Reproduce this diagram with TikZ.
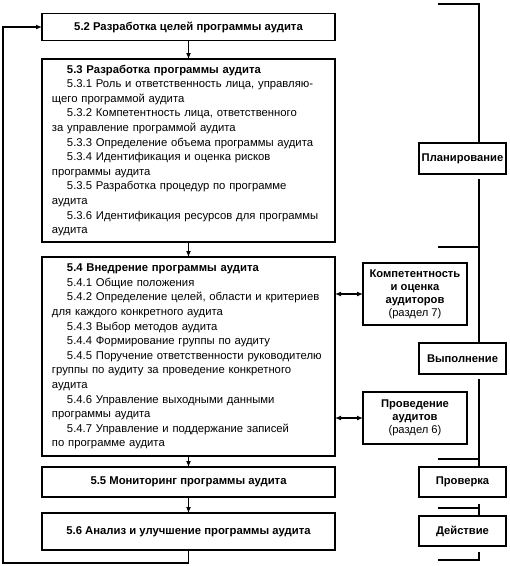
\documentclass[tikz,border=0pt]{standalone}
\usepackage{fontspec}
\setmainfont{Liberation Sans}
\usetikzlibrary{arrows.meta,calc}
\newcommand{\ind}[1]{\mbox{\hspace*{15pt}#1}}
\newcommand{\fl}[1]{\mbox{#1}}
\begin{document}
\begin{tikzpicture}[x=1pt,y=-1pt,
  box/.style={draw,line width=1.4pt,inner sep=0pt,outer sep=0pt},
  lbox/.style={box,minimum width=293pt},
  rbox/.style={box,minimum width=87pt,minimum height=30pt,font=\bfseries\fontsize{11.2}{12}\selectfont},
  sbox/.style={box,minimum width=104pt,align=center,font=\fontsize{11.2}{13}\selectfont},
  txtbox/.style={lbox,text width=273pt,align=left,font=\fontsize{11.3}{14.6}\selectfont},
  ln/.style={line width=1.3pt},
  arr/.style={ln,-{Latex[length=6pt,width=5pt]}},
  darr/.style={ln,{Latex[length=6pt,width=5pt]}-{Latex[length=6pt,width=5pt]}}
]
\useasboundingbox (0,0) rectangle (510,566);

% left column
\node[lbox,minimum height=27pt,font=\bfseries\fontsize{11.3}{12}\selectfont] (b52) at (188.5,27) {5.2 Разработка целей программы аудита};

\node[txtbox,minimum height=183pt] (b53) at (188.5,150.5) {%
\ind{\textbf{5.3 Разработка программы аудита}}\\
\ind{5.3.1 Роль и ответственность лица, управляю-}\\
\fl{щего программой аудита}\\
\ind{5.3.2 Компетентность лица, ответственного}\\
\fl{за управление программой аудита}\\
\ind{5.3.3 Определение объема программы аудита}\\
\ind{5.3.4 Идентификация и оценка рисков}\\
\fl{программы аудита}\\
\ind{5.3.5 Разработка процедур по программе}\\
\fl{аудита}\\
\ind{5.3.6 Идентификация ресурсов для программы}\\
\fl{аудита}};

\node[txtbox,minimum height=199pt] (b54) at (188.5,356.5) {%
\ind{\textbf{5.4 Внедрение программы аудита}}\\
\ind{5.4.1 Общие положения}\\
\ind{5.4.2 Определение целей, области и критериев}\\
\fl{для каждого конкретного аудита}\\
\ind{5.4.3 Выбор методов аудита}\\
\ind{5.4.4 Формирование группы по аудиту}\\
\ind{5.4.5 Поручение ответственности руководителю}\\
\fl{группы по аудиту за проведение конкретного}\\
\fl{аудита}\\
\ind{5.4.6 Управление выходными данными}\\
\fl{программы аудита}\\
\ind{5.4.7 Управление и поддержание записей}\\
\fl{по программе аудита}};

\node[lbox,minimum height=30pt,font=\bfseries\fontsize{11.3}{12}\selectfont] (b55) at (188.5,482) {5.5 Мониторинг программы аудита};
\node[lbox,minimum height=37pt,font=\bfseries\fontsize{11.3}{12}\selectfont] (b56) at (188.5,531.5) {5.6 Анализ и улучшение программы аудита};

% middle boxes
\node[sbox,minimum height=62pt] (comp) at (415,294) {\textbf{Компетентность}\\\textbf{и оценка}\\\textbf{аудиторов}\\(раздел 7)};
\node[sbox,minimum height=52pt] (cond) at (415,418) {\textbf{Проведение}\\\textbf{аудитов}\\(раздел 6)};

% right column boxes
\node[rbox,minimum height=31pt] (plan) at (462.5,158.5) {Планирование};
\node[rbox,minimum height=31pt] (vyp) at (462.5,358.5) {Выполнение};
\node[rbox] (prv) at (462.5,482) {Проверка};
\node[rbox] (dey) at (462.5,531) {Действие};

% connectors left
\draw[arr] (b52.south) -- (b53.north);
\draw[arr] (b53.south) -- (b54.north);
\draw[arr] (b54.south) -- (b55.north);
\draw[arr] (b55.south) -- (b56.north);
\coordinate (lb) at (3,563);
\draw[arr] (b56.south) |- (lb) |- (b52.west);

\draw[darr] (b54.east |- comp.west) -- (comp.west);
\draw[darr] (b54.east |- cond.west) -- (cond.west);

% right brackets
\coordinate (rx) at (479,0);
\coordinate (k0) at (438,4);
\coordinate (k1) at (438,247);
\coordinate (k2) at (438,459);
\coordinate (k3) at (438,508);
\coordinate (k4) at (438,560);
\draw[ln] (k0) -| (plan.north -| rx);
\draw[ln] ($(plan.south -| rx)+(0,5)$) -- (vyp.north -| rx);
\draw[ln] (k1) -- (k1 -| rx);
\draw[ln] ($(vyp.south -| rx)+(0,5)$) -- (prv.north -| rx);
\draw[ln] (k2) -- (k2 -| rx);
\draw[ln] ($(prv.south -| rx)+(0,7)$) -- (dey.north -| rx);
\draw[ln] (k3) -- (k3 -| rx);
\draw[ln] ($(dey.south -| rx)+(0,6)$) |- (k4);
\end{tikzpicture}
\end{document}
